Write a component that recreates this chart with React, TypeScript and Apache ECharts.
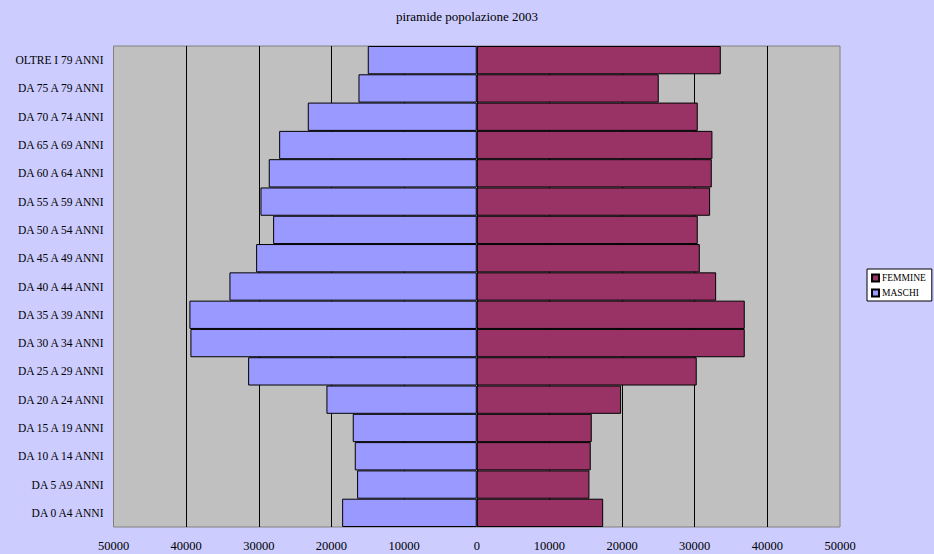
import React, { useEffect, useRef } from "react";
import * as echarts from "echarts";

const categories = [
  "DA 0 A4 ANNI",
  "DA 5 A9 ANNI",
  "DA 10 A 14 ANNI",
  "DA 15 A 19 ANNI",
  "DA 20 A 24 ANNI",
  "DA 25 A 29 ANNI",
  "DA 30 A 34 ANNI",
  "DA 35 A 39 ANNI",
  "DA 40 A 44 ANNI",
  "DA 45 A 49 ANNI",
  "DA 50 A 54 ANNI",
  "DA 55 A 59 ANNI",
  "DA 60 A 64 ANNI",
  "DA 65 A 69 ANNI",
  "DA 70 A 74 ANNI",
  "DA 75 A 79 ANNI",
  "OLTRE I 79 ANNI",
];

const maschi = [
  18530, 16470, 16790, 17070, 20690, 31470, 39410, 39550, 34040, 30370,
  28030, 29770, 28630, 27200, 23260, 16280, 15000,
];

const femmine = [
  17400, 15510, 15690, 15830, 19870, 30280, 36890, 36890, 32950, 30700,
  30420, 32120, 32350, 32440, 30420, 25050, 33590,
];

const titleText = "piramide popolazione 2003";
const FONT = "'Liberation Serif', 'Times New Roman', serif";

export default function App() {
  const ref = useRef<HTMLDivElement>(null);
  useEffect(() => {
    if (!ref.current) return;
    const chart = echarts.init(ref.current, undefined, { renderer: "svg" });
    chart.setOption({
      animation: false,
      backgroundColor: "#CCCCFF",
      title: {
        text: titleText,
        left: "center",
        top: 5,
        textStyle: { fontFamily: FONT, fontSize: 13, fontWeight: "normal", color: "#000" },
      },
      legend: {
        orient: "vertical",
        left: 867,
        top: 269,
        data: ["FEMMINE", "MASCHI"],
        backgroundColor: "#FFFFFF",
        borderColor: "#000000",
        borderWidth: 1,
        padding: [4, 6, 3, 4],
        itemGap: 5,
        itemWidth: 7,
        itemHeight: 7,
        icon: "rect",
        textStyle: { fontFamily: FONT, fontSize: 9.5, color: "#000", padding: [0, 0, 0, -2] },
      },
      grid: {
        left: 113.5,
        right: 94,
        top: 46,
        bottom: 27,
        show: true,
        backgroundColor: "#C0C0C0",
        borderColor: "#808080",
        borderWidth: 1,
        containLabel: false,
      },
      xAxis: {
        type: "value",
        min: -50000,
        max: 50000,
        interval: 10000,
        axisLine: { show: false },
        axisTick: { show: false },
        axisLabel: {
          fontFamily: FONT,
          fontSize: 12.5,
          color: "#000",
          margin: 12,
          formatter: (v: number) => String(Math.abs(v)),
        },
        splitLine: {
          show: true,
          showMinLine: false,
          showMaxLine: false,
          lineStyle: { color: "#000000", width: 1 },
        },
      },
      yAxis: {
        type: "category",
        data: categories,
        axisLine: { show: false },
        axisTick: { show: false },
        axisLabel: { fontFamily: FONT, fontSize: 11.5, color: "#000", margin: 10 },
      },
      series: [
        {
          name: "FEMMINE",
          type: "bar",
          stack: "pop",
          barCategoryGap: "0%",
          data: femmine,
          itemStyle: { color: "#993366", borderColor: "#000000", borderWidth: 1 },
        },
        {
          name: "MASCHI",
          type: "bar",
          stack: "pop",
          barCategoryGap: "0%",
          data: maschi.map((v) => -v),
          itemStyle: { color: "#9999FF", borderColor: "#000000", borderWidth: 1 },
        },
      ],
    });
    return () => chart.dispose();
  }, []);
  return <div ref={ref} style={{ width: 934, height: 554, position: "absolute", left: 0, top: 0 }} />;
}
